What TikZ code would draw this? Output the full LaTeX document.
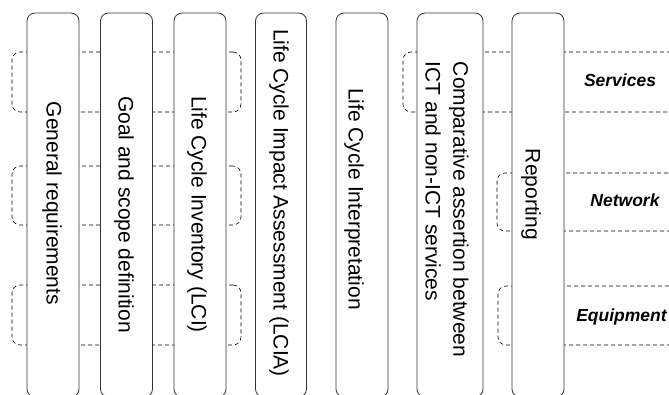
\documentclass[tikz,border=0pt]{standalone}
\usepackage{fontspec}
\setmainfont{Liberation Sans}
\begin{document}
\begin{tikzpicture}[x=1pt,y=-1pt,
  band/.style={draw=black, line width=0.6pt, dash pattern=on 4pt off 3pt, rounded corners=8pt, inner sep=0pt},
  col/.style={draw=black!80, fill=white, line width=0.8pt, rounded corners=8pt, inner sep=0pt, minimum width=52pt, minimum height=384pt},
  coltext/.style={rotate=-90, font=\fontsize{21}{28}\selectfont, inner sep=0pt},
  lab/.style={font=\fontsize{17.5}{20}\selectfont\bfseries\itshape, inner sep=0pt}]
\useasboundingbox (0,0) rectangle (669,394);
\clip (0,0) rectangle (669,394);
% left dashed bands
\node[band, minimum width=229pt, minimum height=60pt] (sl) at (126.5,82) {};
\node[band, minimum width=229pt, minimum height=59pt] (nl) at (126.5,195.5) {};
\node[band, minimum width=229pt, minimum height=60pt] (el) at (126.5,315) {};
% right dashed bands
\node[band, minimum width=290pt, minimum height=60pt] (sr) at (548,82) {};
\node[band, minimum width=200pt, minimum height=58pt] (nr) at (597,202) {};
\node[band, minimum width=200pt, minimum height=59pt] (er) at (598,315.5) {};
% columns
\node[col] (c1) at (53,205) {};
\node[col] (c2) at (126.5,205) {};
\node[col] (c3) at (200,205) {};
\node[col, minimum width=51pt] (c4) at (281,205) {};
\node[col] (c5) at (362,205) {};
\node[col, minimum width=66pt] (c6) at (450,205) {};
\node[col] (c7) at (538,205) {};
% column texts
\node[coltext] (t1) at (52,203.5) {General requirements};
\node[coltext] (t2) at (124,214.5) {Goal and scope definition};
\node[coltext] (t3) at (197,214.5) {Life Cycle Inventory (LCI)};
\node[coltext] (t4) at (279,203) {Life Cycle Impact Assessment (LCIA)};
\node[coltext] (t5) at (354,199) {Life Cycle Interpretation};
\node[coltext, align=left] (t6) at (447,209.5) {Comparative assertion between\\ICT and non-ICT services};
\node[coltext] (t7) at (531,194.5) {Reporting};
% band labels
\node[lab] (ls) at (620,80.5) {Services};
\node[lab] (ln) at (625,200) {Network};
\node[lab] (le) at (621.5,317) {Equipment};
\end{tikzpicture}
\end{document}
